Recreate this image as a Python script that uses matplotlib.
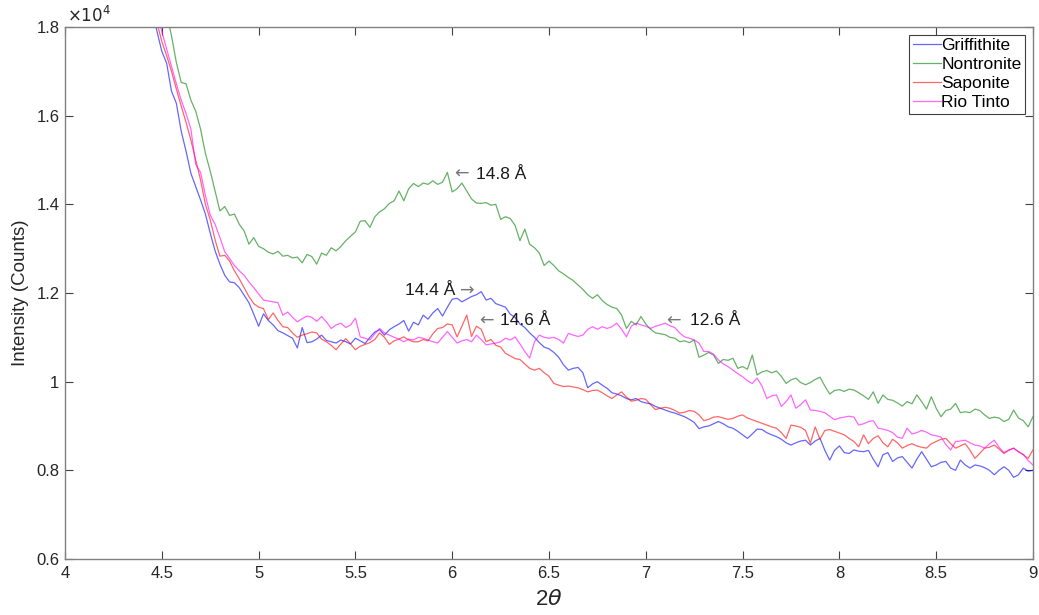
import numpy as np
import matplotlib
matplotlib.use('Agg')
import matplotlib.pyplot as plt
from matplotlib.ticker import FuncFormatter

plt.rcParams['font.family'] = ['Liberation Sans', 'DejaVu Sans']

# 2-theta grid of the scan (deg), step 0.025
two_theta = np.round(np.arange(4.40, 9.0001, 0.025), 3)

# intensities in units of 1e4 counts
griffithite = [
    1.95, 1.90, 1.84, 1.79, 1.745, 1.718, 1.655, 1.628,
    1.565, 1.52, 1.47, 1.44, 1.41, 1.378, 1.335, 1.295,
    1.265, 1.240, 1.225, 1.223, 1.212, 1.195, 1.178, 1.152,
    1.125, 1.153, 1.138, 1.128, 1.115, 1.110, 1.104, 1.098,
    1.076, 1.122, 1.088, 1.090, 1.096, 1.105, 1.093, 1.090,
    1.087, 1.094, 1.090, 1.085, 1.098, 1.092, 1.086, 1.100,
    1.112, 1.117, 1.105, 1.117, 1.124, 1.130, 1.138, 1.114,
    1.134, 1.128, 1.150, 1.141, 1.155, 1.165, 1.148, 1.168,
    1.186, 1.188, 1.180, 1.186, 1.192, 1.196, 1.203, 1.184,
    1.188, 1.176, 1.172, 1.168, 1.152, 1.145, 1.130, 1.122,
    1.110, 1.100, 1.088, 1.078, 1.074, 1.066, 1.055, 1.038,
    1.026, 1.030, 1.032, 1.020, 0.986, 0.995, 1.000, 0.992,
    0.985, 0.975, 0.972, 0.968, 0.962, 0.959, 0.962, 0.955,
    0.952, 0.950, 0.944, 0.940, 0.936, 0.932, 0.929, 0.925,
    0.921, 0.915, 0.908, 0.894, 0.898, 0.900, 0.905, 0.910,
    0.905, 0.898, 0.895, 0.888, 0.880, 0.872, 0.882, 0.893,
    0.892, 0.885, 0.880, 0.876, 0.870, 0.862, 0.857, 0.862,
    0.866, 0.868, 0.857, 0.866, 0.872, 0.845, 0.823, 0.845,
    0.855, 0.840, 0.838, 0.846, 0.843, 0.842, 0.845, 0.825,
    0.808, 0.835, 0.840, 0.820, 0.828, 0.831, 0.818, 0.805,
    0.825, 0.842, 0.825, 0.808, 0.812, 0.818, 0.820, 0.805,
    0.800, 0.823, 0.812, 0.805, 0.812, 0.810, 0.806, 0.800,
    0.790, 0.800, 0.808, 0.800, 0.784, 0.790, 0.805, 0.798,
    0.800,
]

nontronite = [
    2.05, 2.01, 1.97, 1.93, 1.89, 1.83, 1.78, 1.72,
    1.675, 1.672, 1.635, 1.61, 1.57, 1.515, 1.475, 1.43,
    1.385, 1.395, 1.375, 1.378, 1.355, 1.34, 1.31, 1.325,
    1.305, 1.300, 1.292, 1.288, 1.294, 1.283, 1.285, 1.279,
    1.281, 1.268, 1.287, 1.282, 1.265, 1.290, 1.285, 1.302,
    1.295, 1.305, 1.318, 1.328, 1.338, 1.362, 1.363, 1.348,
    1.372, 1.383, 1.390, 1.402, 1.408, 1.430, 1.408, 1.435,
    1.447, 1.440, 1.448, 1.445, 1.453, 1.445, 1.450, 1.472,
    1.428, 1.435, 1.448, 1.430, 1.412, 1.403, 1.402, 1.404,
    1.398, 1.400, 1.366, 1.372, 1.368, 1.352, 1.318, 1.344,
    1.310, 1.302, 1.290, 1.262, 1.272, 1.262, 1.250, 1.243,
    1.235, 1.228, 1.218, 1.208, 1.196, 1.188, 1.196, 1.183,
    1.174, 1.168, 1.165, 1.150, 1.120, 1.136, 1.128, 1.147,
    1.130, 1.118, 1.110, 1.108, 1.106, 1.100, 1.098, 1.090,
    1.092, 1.088, 1.094, 1.055, 1.060, 1.066, 1.060, 1.041,
    1.050, 1.048, 1.053, 1.030, 1.034, 1.028, 1.060, 1.015,
    1.022, 1.025, 1.020, 1.024, 1.012, 0.996, 1.004, 1.008,
    0.998, 0.993, 0.998, 1.005, 1.010, 0.990, 0.972, 0.980,
    0.982, 0.978, 0.983, 0.981, 0.975, 0.968, 0.960, 0.977,
    0.951, 0.970, 0.960, 0.958, 0.952, 0.945, 0.955, 0.950,
    0.970, 0.955, 0.938, 0.966, 0.940, 0.921, 0.935, 0.938,
    0.951, 0.930, 0.932, 0.930, 0.938, 0.935, 0.925, 0.917,
    0.920, 0.918, 0.910, 0.915, 0.936, 0.918, 0.912, 0.898,
    0.921,
]

saponite = [
    1.98, 1.92, 1.86, 1.81, 1.767, 1.735, 1.700, 1.66,
    1.622, 1.585, 1.545, 1.500, 1.455, 1.400, 1.365, 1.320,
    1.283, 1.285, 1.272, 1.250, 1.232, 1.212, 1.192, 1.176,
    1.168, 1.165, 1.140, 1.155, 1.138, 1.124, 1.122, 1.110,
    1.100, 1.105, 1.108, 1.112, 1.110, 1.096, 1.090, 1.082,
    1.072, 1.085, 1.097, 1.085, 1.072, 1.080, 1.084, 1.088,
    1.095, 1.110, 1.100, 1.084, 1.092, 1.096, 1.101, 1.094,
    1.090, 1.090, 1.095, 1.092, 1.108, 1.120, 1.122, 1.130,
    1.128, 1.101, 1.125, 1.150, 1.102, 1.125, 1.118, 1.090,
    1.095, 1.082, 1.078, 1.064, 1.058, 1.052, 1.050, 1.040,
    1.030, 1.026, 1.030, 1.020, 1.012, 0.996, 0.992, 0.989,
    0.990, 0.988, 0.986, 0.982, 0.977, 0.980, 0.981, 0.975,
    0.968, 0.962, 0.970, 0.977, 0.965, 0.956, 0.958, 0.962,
    0.960, 0.948, 0.937, 0.940, 0.942, 0.940, 0.935, 0.929,
    0.931, 0.935, 0.933, 0.925, 0.912, 0.915, 0.920, 0.921,
    0.918, 0.915, 0.917, 0.922, 0.925, 0.918, 0.914, 0.910,
    0.906, 0.902, 0.898, 0.895, 0.885, 0.872, 0.902, 0.900,
    0.897, 0.890, 0.861, 0.898, 0.870, 0.890, 0.892, 0.888,
    0.884, 0.880, 0.872, 0.865, 0.853, 0.880, 0.860, 0.872,
    0.878, 0.862, 0.853, 0.870, 0.862, 0.850, 0.856, 0.860,
    0.855, 0.852, 0.850, 0.860, 0.865, 0.870, 0.872, 0.860,
    0.850, 0.855, 0.860, 0.845, 0.827, 0.838, 0.850, 0.852,
    0.857, 0.848, 0.838, 0.845, 0.850, 0.842, 0.835, 0.827,
    0.846,
]

rio_tinto = [
    2.00, 1.94, 1.88, 1.83, 1.79, 1.75, 1.711, 1.672,
    1.635, 1.605, 1.570, 1.49, 1.472, 1.420, 1.376, 1.355,
    1.325, 1.293, 1.278, 1.262, 1.250, 1.240, 1.225, 1.212,
    1.198, 1.184, 1.182, 1.180, 1.178, 1.150, 1.157, 1.145,
    1.135, 1.142, 1.148, 1.145, 1.136, 1.147, 1.135, 1.120,
    1.128, 1.132, 1.122, 1.128, 1.143, 1.101, 1.098, 1.094,
    1.108, 1.120, 1.110, 1.105, 1.100, 1.096, 1.090, 1.096,
    1.094, 1.100, 1.098, 1.094, 1.090, 1.087, 1.100, 1.113,
    1.100, 1.087, 1.092, 1.095, 1.090, 1.105, 1.095, 1.083,
    1.085, 1.087, 1.090, 1.098, 1.094, 1.101, 1.085, 1.068,
    1.053, 1.090, 1.105, 1.100, 1.098, 1.100, 1.095, 1.087,
    1.109, 1.105, 1.102, 1.105, 1.118, 1.124, 1.118, 1.124,
    1.120, 1.124, 1.132, 1.118, 1.101, 1.125, 1.132, 1.128,
    1.125, 1.120, 1.125, 1.128, 1.132, 1.126, 1.122, 1.110,
    1.101, 1.098, 1.094, 1.087, 1.068, 1.068, 1.062, 1.049,
    1.040, 1.034, 1.026, 1.018, 1.011, 1.002, 0.996, 1.008,
    0.990, 0.962, 0.968, 0.970, 0.944, 0.955, 0.970, 0.940,
    0.948, 0.959, 0.936, 0.935, 0.933, 0.930, 0.922, 0.914,
    0.918, 0.920, 0.922, 0.920, 0.902, 0.905, 0.910, 0.912,
    0.895, 0.893, 0.890, 0.885, 0.875, 0.872, 0.895, 0.882,
    0.885, 0.890, 0.886, 0.880, 0.878, 0.875, 0.858, 0.846,
    0.865, 0.866, 0.868, 0.862, 0.857, 0.855, 0.850, 0.860,
    0.868, 0.852, 0.840, 0.846, 0.850, 0.842, 0.836, 0.822,
    0.812,
]

labels = ['Griffithite', 'Nontronite', 'Saponite', 'Rio Tinto']
colors = ['#0000ff', '#007f00', '#ff0000', '#ff00ff']

# peak labels: (arrow x, text x, y, text, arrow direction)
peak_notes = [
    (6.010, 6.123, 1.468, '14.8 Å', 'left'),
    (6.040, 5.756, 1.205, '14.4 Å', 'right'),
    (6.140, 6.247, 1.137, '14.6 Å', 'left'),
    (7.105, 7.228, 1.137, '12.6 Å', 'left'),
]

fig = plt.figure(figsize=(10.39, 6.15), dpi=100)
ax = fig.add_axes([0.0626, 0.0911, 0.9316, 0.8650])

for series, lab, c in zip([griffithite, nontronite, saponite, rio_tinto], labels, colors):
    ax.plot(two_theta, series, color=c, alpha=0.6, lw=0.9, label=lab)

for ax_x, tx, ty, txt, side in peak_notes:
    arrow = '←' if side == 'left' else '→'
    ax.text(ax_x, ty, arrow, color='#777777', fontsize=12.5, va='center', ha='left',
            family=['DejaVu Sans'])
    ax.text(tx, ty, txt, color='#1a1a1a', fontsize=12.5, va='center', ha='left')

ax.set_xlim(4, 9)
ax.set_ylim(0.6, 1.8)
ax.set_xticks(np.arange(4, 9.01, 0.5))
ax.set_yticks(np.arange(0.6, 1.81, 0.2))
ax.xaxis.set_major_formatter(FuncFormatter(lambda v, p: '%g' % round(v, 2)))
ax.yaxis.set_major_formatter(FuncFormatter(lambda v, p: '%g' % round(v, 2)))

ax.tick_params(direction='in', top=True, right=True, length=6, width=0.8,
               color='#404040', labelcolor='#262626', labelsize=12)
ax.tick_params(axis='x', pad=5)
ax.tick_params(axis='y', pad=4)
for s in ax.spines.values():
    s.set_color('#808080')
    s.set_linewidth(1.0)

ax.set_xlabel(r'2$\theta$', fontsize=16, color='#262626', labelpad=6)
ax.set_ylabel('Intensity (Counts)', fontsize=13.5, color='#262626', labelpad=5)
ax.text(0.002, 1.004, r'$\times10^4$', transform=ax.transAxes, fontsize=12,
        color='#262626', va='bottom', ha='left')

leg = ax.legend(loc='upper right', fontsize=12.5, handlelength=1.6, handletextpad=0.05,
                labelspacing=0.22, borderpad=0.2, borderaxespad=0.45, fancybox=False,
                framealpha=1)
leg.get_frame().set_edgecolor('#404040')
leg.get_frame().set_linewidth(0.8)

fig.savefig('out.png', dpi=100)
